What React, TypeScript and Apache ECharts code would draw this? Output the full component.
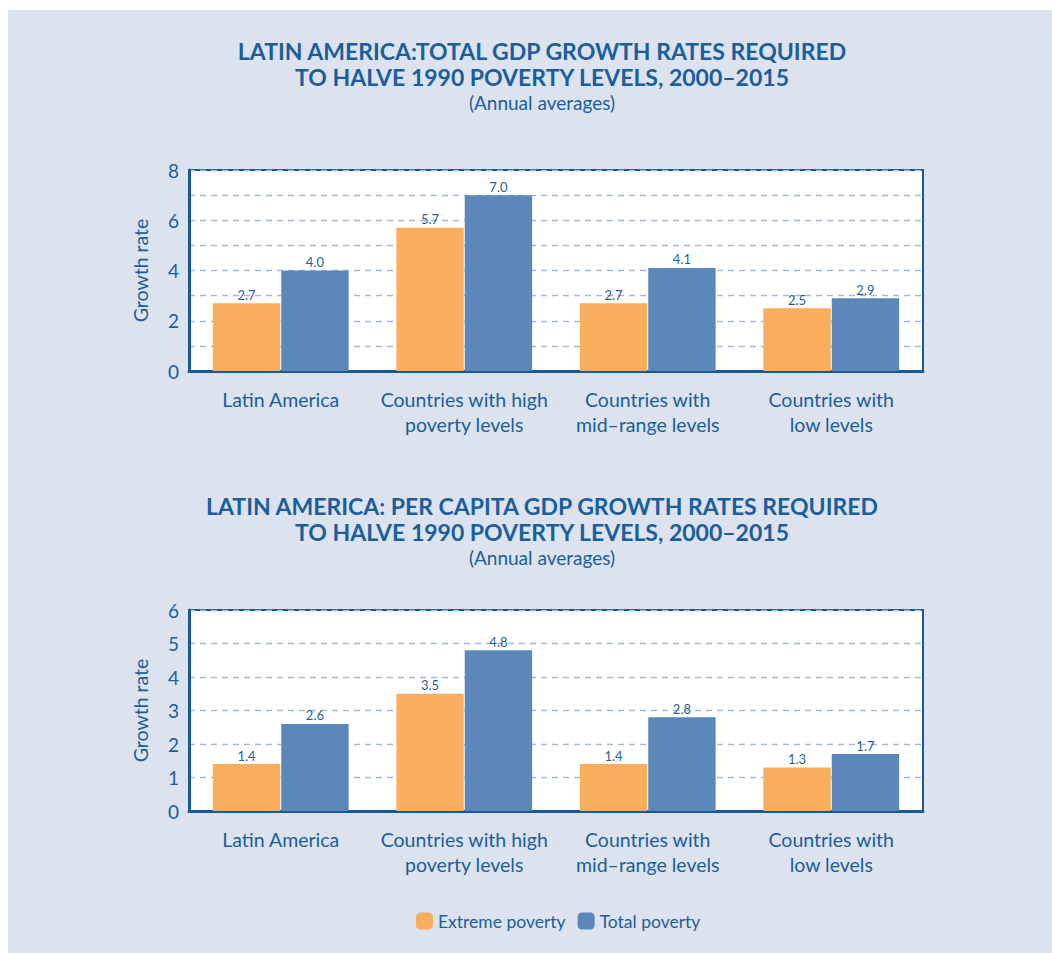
import React, { useEffect, useRef } from "react";
import * as echarts from "echarts";

const categories = [
  "Latin America",
  "Countries with high\npoverty levels",
  "Countries with\nmid–range levels",
  "Countries with\nlow levels",
];
const totalGdpExtreme = [2.7, 5.7, 2.7, 2.5];
const totalGdpTotal = [4.0, 7.0, 4.1, 2.9];
const perCapitaExtreme = [1.4, 3.5, 1.4, 1.3];
const perCapitaTotal = [2.6, 4.8, 2.8, 1.7];
const seriesNames = ["Extreme poverty", "Total poverty"];

const TEXT = "#1b5e9c";
const FRAME = "#16599a";
const ORANGE = "#f9ae5d";
const BLUE = "#5b87b9";
const FONT = "Lato, 'Open Sans', sans-serif";

function gridBox(top: number) {
  return {
    left: 189,
    top,
    width: 734,
    height: 201,
    show: true,
    backgroundColor: "#ffffff",
    borderColor: FRAME,
    borderWidth: 2,
    containLabel: false,
  };
}

function catAxis(gridIndex: number) {
  return {
    type: "category",
    gridIndex,
    data: categories,
    axisLine: { lineStyle: { color: FRAME, width: 3 } },
    axisTick: { show: false },
    axisLabel: {
      interval: 0,
      color: TEXT,
      fontSize: 19.5,
      fontFamily: FONT,
      lineHeight: 25,
      margin: 16,
    },
  };
}

function valAxis(gridIndex: number, max: number, everyOther: boolean) {
  return {
    type: "value",
    gridIndex,
    min: 0,
    max,
    interval: 1,
    name: "Growth rate",
    nameLocation: "middle",
    nameGap: 39,
    nameTextStyle: { color: TEXT, fontSize: 19.5, fontFamily: FONT },
    axisLine: { show: true, lineStyle: { color: FRAME, width: 3 } },
    axisTick: { show: false },
    axisLabel: {
      color: TEXT,
      fontSize: 19,
      fontFamily: FONT,
      margin: 10,
      formatter: (v: number) => (everyOther && v % 2 !== 0 ? "" : String(v)),
    },
    splitLine: {
      show: true,
      lineStyle: { color: "#a9b8d6", type: [6, 5], width: 1.3 },
    },
  };
}

function bar(name: string, data: number[], color: string, idx: number) {
  return {
    type: "bar",
    name,
    data,
    xAxisIndex: idx,
    yAxisIndex: idx,
    barGap: "1.5%",
    barCategoryGap: "26%",
    itemStyle: { color },
    label: {
      show: true,
      position: "top",
      distance: 2,
      color: "#2b5f93",
      fontSize: 13,
      fontFamily: FONT,
      formatter: (p: any) => Number(p.value).toFixed(1),
    },
  };
}

function titleBlock(top: number, line1: string) {
  return [
    {
      text: line1 + "\nTO HALVE 1990 POVERTY LEVELS, 2000–2015",
      left: 537,
      textAlign: "center",
      top,
      textStyle: {
        color: TEXT,
        fontSize: 23,
        fontWeight: "bold",
        fontFamily: FONT,
        lineHeight: 26,
      },
    },
    {
      text: "(Annual averages)",
      left: 537,
      textAlign: "center",
      top: top + 55,
      textStyle: {
        color: TEXT,
        fontSize: 19,
        fontWeight: "normal",
        fontFamily: FONT,
      },
    },
  ];
}

export default function App() {
  const ref = useRef<HTMLDivElement>(null);

  useEffect(() => {
    document.body.style.margin = "0";
    const chart = echarts.init(ref.current!, undefined, { renderer: "svg" });
    chart.setOption({
      animation: false,
      backgroundColor: "#ffffff",
      graphic: [
        {
          type: "rect",
          z: -10,
          silent: true,
          shape: { x: 8, y: 10, width: 1044, height: 943 },
          style: { fill: "#dce3ef" },
        },
      ],
      title: [
        ...titleBlock(33, "LATIN AMERICA:TOTAL GDP GROWTH RATES REQUIRED"),
        ...titleBlock(488, "LATIN AMERICA: PER CAPITA GDP GROWTH RATES REQUIRED"),
      ],
      legend: {
        data: seriesNames,
        left: 411,
        top: 907,
        itemWidth: 17,
        itemHeight: 17,
        itemGap: 12,
        textStyle: { color: TEXT, fontSize: 17.5, fontFamily: FONT },
      },
      grid: [gridBox(170), gridBox(610)],
      xAxis: [catAxis(0), catAxis(1)],
      yAxis: [valAxis(0, 8, true), valAxis(1, 6, false)],
      series: [
        bar(seriesNames[0], totalGdpExtreme, ORANGE, 0),
        bar(seriesNames[1], totalGdpTotal, BLUE, 0),
        bar(seriesNames[0], perCapitaExtreme, ORANGE, 1),
        bar(seriesNames[1], perCapitaTotal, BLUE, 1),
      ],
    });
    return () => chart.dispose();
  }, []);

  return <div ref={ref} style={{ width: 1052, height: 953 }} />;
}
